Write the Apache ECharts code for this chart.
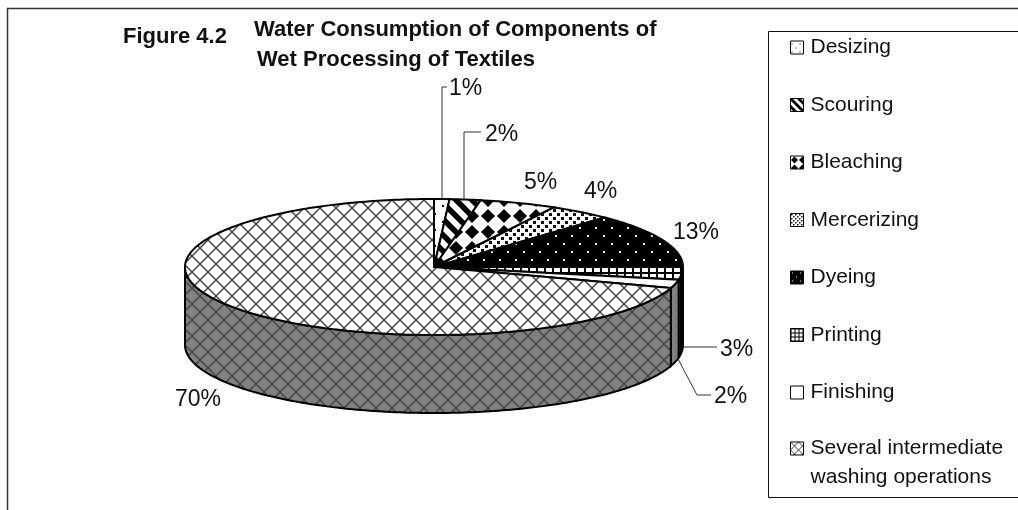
<!DOCTYPE html>
<html>
<head>
<meta charset="utf-8">
<title>Figure 4.2</title>
<script src="https://cdn.jsdelivr.net/npm/echarts@6/dist/echarts.min.js"></script>
<style>
  html, body { margin: 0; background: #fff; }
  #chart { width: 1018px; height: 510px; }
</style>
</head>
<body>
<div id="chart"></div>
<script>
const categories = ['Desizing', 'Scouring', 'Bleaching', 'Mercerizing', 'Dyeing', 'Printing', 'Finishing', 'Several intermediate washing operations']
const shares = [1, 2, 5, 4, 13, 3, 2, 70]

const FONT = '"Liberation Sans", Arial, sans-serif'
const CX = 434
const CY = 267
const RX = 249
const RY = 68
const DEPTH = 78

// where each percent label sits, and the bend of its leader line
const labelSpots = [
  { x: 449, y: 89, line: [[442, 199], [442, 87], [447, 87]] },
  { x: 485, y: 135, line: [[464, 199], [464, 132], [481, 132]] },
  { x: 524, y: 183 },
  { x: 584, y: 192 },
  { x: 673, y: 233 },
  { x: 720, y: 350, line: [[683, 347], [717, 347]] },
  { x: 714, y: 397, line: [[677, 357], [697, 395], [711, 395]] },
  { x: 175, y: 400 }
]

function tile(w, h, bg, draw) {
  const c = document.createElement('canvas')
  c.width = w
  c.height = h
  const ctx = c.getContext('2d')
  ctx.fillStyle = bg
  ctx.fillRect(0, 0, w, h)
  draw(ctx)
  return c
}

function dots(ctx, color, size, spots) {
  ctx.fillStyle = color
  spots.forEach(p => ctx.fillRect(p[0], p[1], size, size))
}

const painters = [
  ctx => dots(ctx, '#000', 2, [[10, 13], [2, 5]]),
  ctx => {
    ctx.strokeStyle = '#000'
    ctx.lineWidth = 5.5
    ;[-16, 0, 16].forEach(o => {
      ctx.beginPath()
      ctx.moveTo(o - 2, -2)
      ctx.lineTo(o + 18, 18)
      ctx.stroke()
    })
  },
  ctx => {
    ctx.fillStyle = '#000'
    ctx.beginPath()
    ctx.moveTo(8, 1)
    ctx.lineTo(15, 8)
    ctx.lineTo(8, 15)
    ctx.lineTo(1, 8)
    ctx.closePath()
    ctx.fill()
  },
  ctx => dots(ctx, '#111', 3, [[1, 1], [5, 5]]),
  ctx => {
    ctx.fillStyle = '#000'
    ctx.fillRect(0, 0, 16, 16)
    dots(ctx, '#eee', 2, [[3, 3], [11, 11]])
  },
  ctx => {
    ctx.fillStyle = '#000'
    ctx.fillRect(0, 0, 8, 2)
    ctx.fillRect(0, 0, 2, 8)
  },
  () => {},
  ctx => {
    ctx.strokeStyle = '#444'
    ctx.lineWidth = 1.5
    ;[[0, 0, 16, 16], [16, 0, 0, 16]].forEach(l => {
      ctx.beginPath()
      ctx.moveTo(l[0], l[1])
      ctx.lineTo(l[2], l[3])
      ctx.stroke()
    })
  }
]
const tileSizes = [[16, 16], [16, 16], [16, 16], [8, 8], [16, 16], [8, 8], [8, 8], [16, 16]]

function pattern(i, bg, scale) {
  const s = tileSizes[i]
  return {
    image: tile(s[0], s[1], bg, painters[i]),
    repeat: 'repeat',
    scaleX: scale,
    scaleY: scale
  }
}

const topFills = categories.map((n, i) => pattern(i, '#fff', 1))
const sideFills = categories.map((n, i) => pattern(i, '#808080', 1))
const legendFills = categories.map((n, i) => pattern(i, '#fff', 0.5))

const total = shares.reduce((a, b) => a + b, 0)
const starts = shares.map((v, i) => shares.slice(0, i).reduce((a, b) => a + b, 0))

function rimPoint(deg, dy) {
  const a = deg * Math.PI / 180
  return [CX + RX * Math.sin(a), CY - RY * Math.cos(a) + (dy || 0)]
}

function arc(from, to, dy) {
  const pts = []
  const n = Math.max(2, Math.ceil(Math.abs(to - from)))
  for (let k = 0; k <= n; k++) {
    pts.push(rimPoint(from + (to - from) * k / n, dy))
  }
  return pts
}

function renderSlice(i, params, api) {
  const from = starts[i] / total * 360
  const to = from + api.value(0) / total * 360
  const children = []
  const frontFrom = Math.max(from, 90)
  const frontTo = Math.min(to, 270)
  if (frontTo > frontFrom) {
    children.push({
      type: 'polygon',
      shape: { points: arc(frontFrom, frontTo, 0).concat(arc(frontTo, frontFrom, DEPTH)) },
      style: { fill: sideFills[i], stroke: '#000', lineWidth: 2 }
    })
  }
  children.push({
    type: 'polygon',
    shape: { points: [[CX, CY]].concat(arc(from, to, 0)) },
    style: { fill: topFills[i], stroke: '#000', lineWidth: 2 }
  })
  const spot = labelSpots[i]
  if (spot.line) {
    children.push({
      type: 'polyline',
      shape: { points: spot.line },
      style: { fill: null, stroke: '#333', lineWidth: 1 }
    })
  }
  children.push({
    type: 'text',
    style: {
      x: spot.x,
      y: spot.y,
      text: api.value(0) + '%',
      font: '23px ' + FONT,
      fill: '#111',
      verticalAlign: 'middle'
    }
  })
  return { type: 'group', children }
}

function legendBlock(names, top) {
  return {
    orient: 'vertical',
    left: 790,
    top,
    height: 900,
    padding: 0,
    itemGap: 28.5,
    itemWidth: 13,
    itemHeight: 13,
    icon: 'rect',
    selectedMode: false,
    // the blank first line keeps the swatch level with "Several intermediate"
    formatter: name => (name.indexOf('Several') === 0 ? '\nSeveral intermediate\nwashing operations' : name),
    textStyle: { fontFamily: FONT, fontSize: 21, color: '#111', lineHeight: 29, padding: [0, 0, 0, 2] },
    data: names.map(name => ({
      name,
      itemStyle: { color: legendFills[categories.indexOf(name)], borderColor: '#000', borderWidth: 1 }
    }))
  }
}

const chart = echarts.init(document.getElementById('chart'), null, { renderer: 'canvas' })
chart.setOption({
  animation: false,
  backgroundColor: '#fff',
  title: [
    {
      text: 'Figure 4.2',
      left: 123,
      top: 26,
      padding: 0,
      textStyle: { fontFamily: FONT, fontSize: 22, fontWeight: 'bold', color: '#111' }
    },
    {
      text: 'Water Consumption of Components of',
      left: 254,
      top: 19,
      padding: 0,
      textStyle: { fontFamily: FONT, fontSize: 22, fontWeight: 'bold', color: '#111' }
    },
    {
      text: 'Wet Processing of Textiles',
      left: 257,
      top: 49,
      padding: 0,
      textStyle: { fontFamily: FONT, fontSize: 22, fontWeight: 'bold', color: '#111' }
    }
  ],
  graphic: [
    {
      type: 'polyline',
      silent: true,
      shape: { points: [[7.5, 510], [7.5, 8.5], [1018, 8.5]] },
      style: { fill: null, stroke: '#333', lineWidth: 1.5 }
    },
    {
      type: 'polyline',
      silent: true,
      shape: { points: [[1018, 31.5], [768.5, 31.5], [768.5, 497.5], [1018, 497.5]] },
      style: { fill: null, stroke: '#111', lineWidth: 1 }
    }
  ],
  legend: [
    legendBlock(categories.slice(0, 7), 33),
    legendBlock(categories.slice(7), 405)
  ],
  series: categories.map((name, i) => ({
    name,
    type: 'custom',
    coordinateSystem: 'none',
    silent: true,
    renderItem: (params, api) => renderSlice(i, params, api),
    data: [[shares[i]]]
  }))
})
</script>
</body>
</html>
